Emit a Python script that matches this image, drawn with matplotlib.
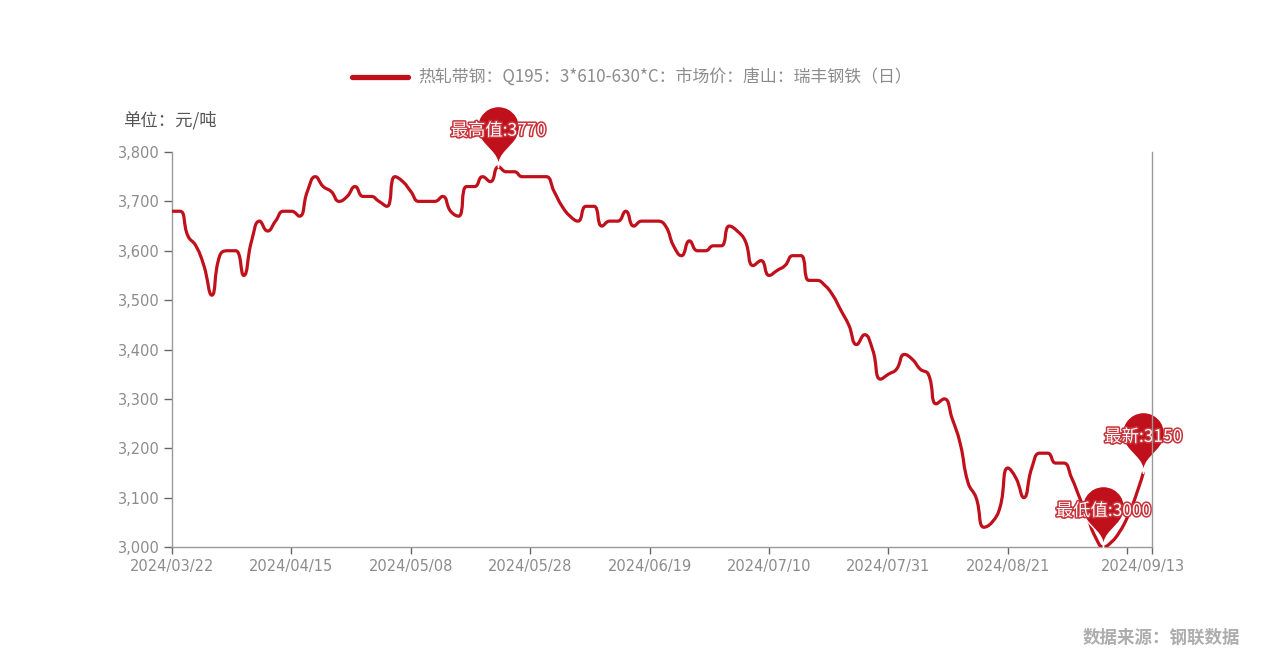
import matplotlib

matplotlib.use("Agg")
import matplotlib.pyplot as plt
import matplotlib.ticker as mticker
import matplotlib.patheffects as pe
from matplotlib.path import Path
from matplotlib.patches import PathPatch
from matplotlib.lines import Line2D
import numpy as np
import pandas as pd

OUT = "out.png"
W, H = 1267, 663
RED = "#c0101b"

SERIES_NAME = "热轧带钢：Q195：3*610-630*C：市场价：唐山：瑞丰钢铁（日）"
UNIT = "单位：元/吨"
SOURCE = "数据来源：钢联数据"

# trading days (weekday calendar, minus holidays, plus make-up work days)
START, END = "2024-03-22", "2024-09-13"
HOLIDAYS = ["2024-04-04", "2024-04-05", "2024-05-01", "2024-05-02", "2024-05-03", "2024-06-10"]
MAKEUP_DAYS = ["2024-04-07", "2024-04-28", "2024-05-11"]

PRICES = [
    3680, 3680, 3630, 3610, 3570, 3510, 3590, 3600, 3600, 3550, 3620, 3660, 3640, 3660, 3680,
    3680, 3670, 3720, 3750, 3730, 3720, 3700, 3710, 3730, 3710, 3710, 3700, 3690, 3750, 3740,
    3720, 3700, 3700, 3700, 3710, 3680, 3670, 3730, 3730, 3750, 3740, 3770, 3760, 3760, 3750,
    3750, 3750, 3750, 3720, 3690, 3670, 3660, 3690, 3690, 3650, 3660, 3660, 3680, 3650, 3660,
    3660, 3660, 3650, 3610, 3590, 3620, 3600, 3600, 3610, 3610, 3650, 3640, 3620, 3570, 3580,
    3550, 3560, 3570, 3590, 3590, 3540, 3540, 3530, 3510, 3480, 3450, 3410, 3430, 3400, 3340,
    3350, 3360, 3390, 3380, 3360, 3350, 3290, 3300, 3260, 3210, 3130, 3100, 3040, 3050, 3080,
    3160, 3140, 3100, 3160, 3190, 3190, 3170, 3170, 3140, 3100, 3060, 3020, 3000, 3010, 3030,
    3060, 3100, 3150,
]


def smooth_path(ax, xs, ys, smooth=0.5):
    """Bezier path through the points, built like echarts' smooth line."""
    P = ax.transData.transform(np.column_stack([xs, ys]))
    n = len(P)
    verts, codes = [P[0]], [Path.MOVETO]
    cp0 = P[0] + smooth * (P[1] - P[0])
    for i in range(1, n):
        cur, prev = P[i], P[i - 1]
        if i == n - 1:
            cp1 = cur.copy()
            ncp0 = cur.copy()
        else:
            nxt = P[i + 1]
            lp = np.hypot(*(cur - prev))
            ln = np.hypot(*(nxt - cur))
            if lp == 0 or ln == 0:
                cp1, ncp0 = cur.copy(), cur.copy()
            else:
                v = nxt - prev
                r = ln / (ln + lp)
                ncp0 = cur + v * smooth * r
                ncp0 = np.clip(ncp0, np.minimum(nxt, cur), np.maximum(nxt, cur))
                cp1 = cur - (ncp0 - cur) * lp / ln
                cp1 = np.clip(cp1, np.minimum(prev, cur), np.maximum(prev, cur))
                ncp0 = cur + (cur - cp1) * ln / lp
        verts += [cp0, cp1, cur]
        codes += [Path.CURVE4] * 3
        cp0 = ncp0
    verts = ax.transData.inverted().transform(np.array(verts))
    return Path(verts, codes)


def pin_marker():
    # echarts 'pin' symbol, tip at origin, y up, radius 1
    h = 10 / 3
    dy = 1 / (h - 1)
    cy = h - 1 - dy
    ang = np.arcsin(dy)
    dx = np.cos(ang)
    tx, ty = np.sin(ang), np.cos(ang)
    c1, c2 = 0.6, 0.7
    right = (dx, cy - dy)
    arc = Path.arc(-np.degrees(ang), 180 + np.degrees(ang))
    av = arc.vertices + [0, cy]
    verts = [(0, 0), (0, c2), (dx - tx * c1, cy - dy - ty * c1), right]
    codes = [Path.MOVETO, Path.CURVE4, Path.CURVE4, Path.CURVE4]
    verts += list(av[1:])
    codes += list(arc.codes[1:])
    verts += [(-dx + tx * c1, cy - dy - ty * c1), (0, c2), (0, 0), (0, 0)]
    codes += [Path.CURVE4, Path.CURVE4, Path.CURVE4, Path.CLOSEPOLY]
    p = Path(np.array(verts, float), codes)
    return p, np.max(np.abs(p.vertices))


def main():
    plt.rcParams["font.family"] = ["Noto Sans CJK SC", "DejaVu Sans"]
    dates = pd.bdate_range(START, END, freq="C", holidays=HOLIDAYS).union(pd.to_datetime(MAKEUP_DAYS))
    labels = list(dates.strftime("%Y/%m/%d"))
    x = np.arange(len(PRICES))
    y = np.array(PRICES)

    fig = plt.figure(figsize=(W / 100, H / 100), dpi=100, facecolor="white")
    ax = fig.add_axes([172 / W, 1 - 547 / H, (1152 - 172) / W, (547 - 152) / H])
    xmax = len(PRICES) + 0.1
    ax.set_xlim(0, xmax)
    ax.set_ylim(3000, 3800)

    # curva suavizada
    ax.add_patch(PathPatch(smooth_path(ax, x, y), facecolor="none", edgecolor=RED, lw=2.3,
                           capstyle="round", joinstyle="round", zorder=3))

    # eixos
    ax.spines["top"].set_visible(False)
    for s in ["left", "bottom", "right"]:
        ax.spines[s].set_color("#9a9a9a")
        ax.spines[s].set_linewidth(1)
    ax.spines["right"].set_zorder(10)

    ax.set_yticks(np.arange(3000, 3801, 100))
    ax.yaxis.set_major_formatter(mticker.StrMethodFormatter("{x:,.0f}"))
    tick_idx = list(range(0, len(PRICES) - 1, 15))
    ax.set_xticks(tick_idx + [len(PRICES) - 1])
    ax.set_xticklabels([labels[i] for i in tick_idx[:-1]] + ["", labels[-1]])
    ax.set_xticks([xmax], minor=True)
    ax.xaxis.get_major_ticks()[-1].tick1line.set_visible(False)
    ax.tick_params(axis="both", which="both", color="#666666", width=1, labelcolor="#8c8c8c",
                   labelsize=10.5, labelfontfamily="DejaVu Sans")
    ax.tick_params(axis="y", length=6, pad=3)
    ax.tick_params(axis="x", which="both", length=5, pad=4)

    # marcadores (máximo, mínimo, último)
    pin, scale = pin_marker()
    r_pt = 21 * 0.72
    imax, imin, ilast = int(np.argmax(y)), int(np.argmin(y)), len(y) - 1
    marks = [(imax, f"最高值:{y[imax]}"), (imin, f"最低值:{y[imin]}"), (ilast, f"最新:{y[ilast]}")]
    for i, txt in marks:
        ax.plot(x[i], y[i], marker=pin, ms=2 * scale * r_pt, mfc=RED, mec="white", mew=1.0,
                ls="none", clip_on=False, zorder=6)
        ax.annotate(txt, (x[i], y[i]), xytext=(0, 26), textcoords="offset points", ha="center",
                    va="center", fontsize=12.5, color="white", zorder=7, annotation_clip=False,
                    path_effects=[pe.withStroke(linewidth=2.2, foreground="#c8323a")])

    # legenda e textos
    handle = Line2D([], [], color=RED, lw=3.8, solid_capstyle="round")
    fig.legend([handle], [SERIES_NAME], loc="center", bbox_to_anchor=(632 / W, 1 - 78 / H),
               frameon=False, fontsize=12.2, handlelength=3.3, handletextpad=0.6, labelcolor="#8c8c8c")
    fig.text(123 / W, 1 - 120 / H, UNIT, ha="left", va="center", fontsize=12.5, color="#555555")
    fig.text(1240 / W, 1 - 638 / H, SOURCE, ha="right", va="center", fontsize=12.6, color="#adadad",
             fontweight="bold")

    fig.savefig(OUT, dpi=100, facecolor="white")


if __name__ == "__main__":
    main()
